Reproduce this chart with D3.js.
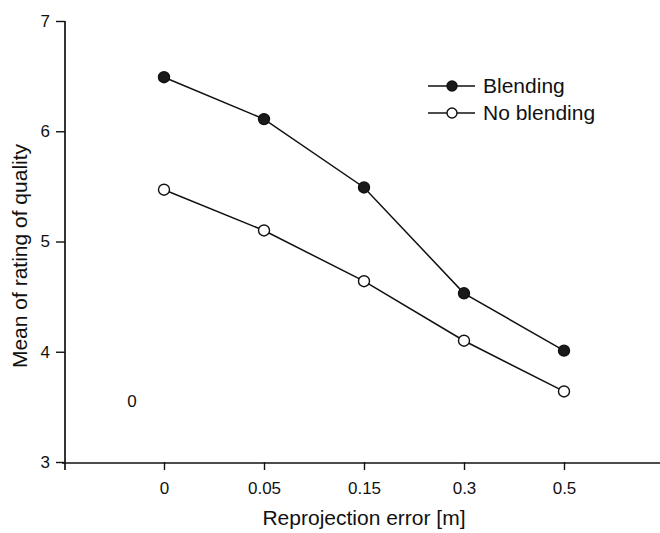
<!DOCTYPE html>
<html>
<head>
<meta charset="utf-8">
<script src="https://cdn.jsdelivr.net/npm/d3@7"></script>
<style>
  body { margin: 0; background: #fff; }
  svg { font-family: "Liberation Sans", Arial, sans-serif; }
</style>
</head>
<body>
<div id="chart"></div>
<script>
const categories = ["0", "0.05", "0.15", "0.3", "0.5"];
const blending = [6.49, 6.11, 5.49, 4.53, 4.01];
const noBlending = [5.47, 5.10, 4.64, 4.10, 3.64];
const yTicks = [3, 4, 5, 6, 7];
const seriesNames = ["Blending", "No blending"];

const width = 660;
const height = 533;

const svg = d3
  .select("#chart")
  .append("svg")
  .attr("width", width)
  .attr("height", height);

// scales
const x = d3.scalePoint().domain(categories).range([164, 564]);
const y = d3.scaleLinear().domain([3, 7]).range([462, 21]);
const axisX = 65;

// y axis
const yAxis = svg
  .append("g")
  .attr("transform", "translate(" + axisX + ",0)")
  .call(
    d3.axisLeft(y)
      .tickValues(yTicks)
      .tickFormat(d3.format("d"))
      .tickSize(9)
      .tickSizeOuter(0)
      .tickPadding(6)
  )
  .attr("font-size", null)
  .attr("font-family", null);
yAxis.select(".domain").remove();
yAxis.selectAll("line").attr("stroke", "#111").attr("stroke-width", 1.4);
yAxis.selectAll("text").style("font-size", "17px").attr("fill", "#111");

svg
  .append("line")
  .attr("x1", axisX)
  .attr("x2", axisX)
  .attr("y1", y(7))
  .attr("y2", y(3) + 8)
  .attr("stroke", "#111")
  .attr("stroke-width", 1.7);

// x axis
const xAxis = svg
  .append("g")
  .attr("transform", "translate(0," + y(3) + ")")
  .call(d3.axisBottom(x).tickSize(8).tickSizeOuter(0).tickPadding(12))
  .attr("font-size", null)
  .attr("font-family", null);
xAxis.select(".domain").remove();
xAxis.selectAll("line").attr("stroke", "#111").attr("stroke-width", 1.4);
xAxis.selectAll("text").style("font-size", "17px").attr("fill", "#111");

svg
  .append("line")
  .attr("x1", axisX - 3)
  .attr("x2", 660)
  .attr("y1", y(3) + 1)
  .attr("y2", y(3) + 1)
  .attr("stroke", "#111")
  .attr("stroke-width", 1.7);

// axis titles
svg
  .append("text")
  .attr("transform", "translate(27,256) rotate(-90)")
  .attr("text-anchor", "middle")
  .style("font-size", "21px")
  .attr("fill", "#111")
  .text("Mean of rating of quality");

svg
  .append("text")
  .attr("x", x("0.15"))
  .attr("y", 525)
  .attr("text-anchor", "middle")
  .style("font-size", "21px")
  .attr("fill", "#111")
  .text("Reprojection error [m]");

// stray label inside plot
svg
  .append("text")
  .attr("x", 132)
  .attr("y", 407)
  .attr("text-anchor", "middle")
  .style("font-size", "17px")
  .attr("fill", "#111")
  .text("0");

// lines and markers
const line = d3
  .line()
  .x((d, i) => x(categories[i]))
  .y((d) => y(d));

const series = [
  { name: seriesNames[0], values: blending, fill: "#1a1a1a" },
  { name: seriesNames[1], values: noBlending, fill: "#fff" },
];

series.forEach(function (s) {
  svg
    .append("path")
    .datum(s.values)
    .attr("d", line)
    .attr("fill", "none")
    .attr("stroke", "#111")
    .attr("stroke-width", 1.5);

  svg
    .selectAll(null)
    .data(s.values)
    .join("circle")
    .attr("cx", (d, i) => x(categories[i]))
    .attr("cy", (d) => y(d))
    .attr("r", 5.5)
    .attr("fill", s.fill)
    .attr("stroke", "#111")
    .attr("stroke-width", 1.4);
});

// legend
const legend = svg.append("g").attr("transform", "translate(428,86)");
series.forEach(function (s, i) {
  const g = legend.append("g").attr("transform", "translate(0," + i * 27 + ")");
  g.append("line")
    .attr("x1", 0)
    .attr("x2", 47)
    .attr("y1", 0)
    .attr("y2", 0)
    .attr("stroke", "#111")
    .attr("stroke-width", 1.4);
  g.append("circle")
    .attr("cx", 24)
    .attr("cy", 0)
    .attr("r", 5)
    .attr("fill", s.fill)
    .attr("stroke", "#111")
    .attr("stroke-width", 1.4);
  g.append("text")
    .attr("x", 55)
    .attr("y", 7)
    .style("font-size", "21px")
    .attr("fill", "#111")
    .text(s.name);
});
</script>
</body>
</html>
